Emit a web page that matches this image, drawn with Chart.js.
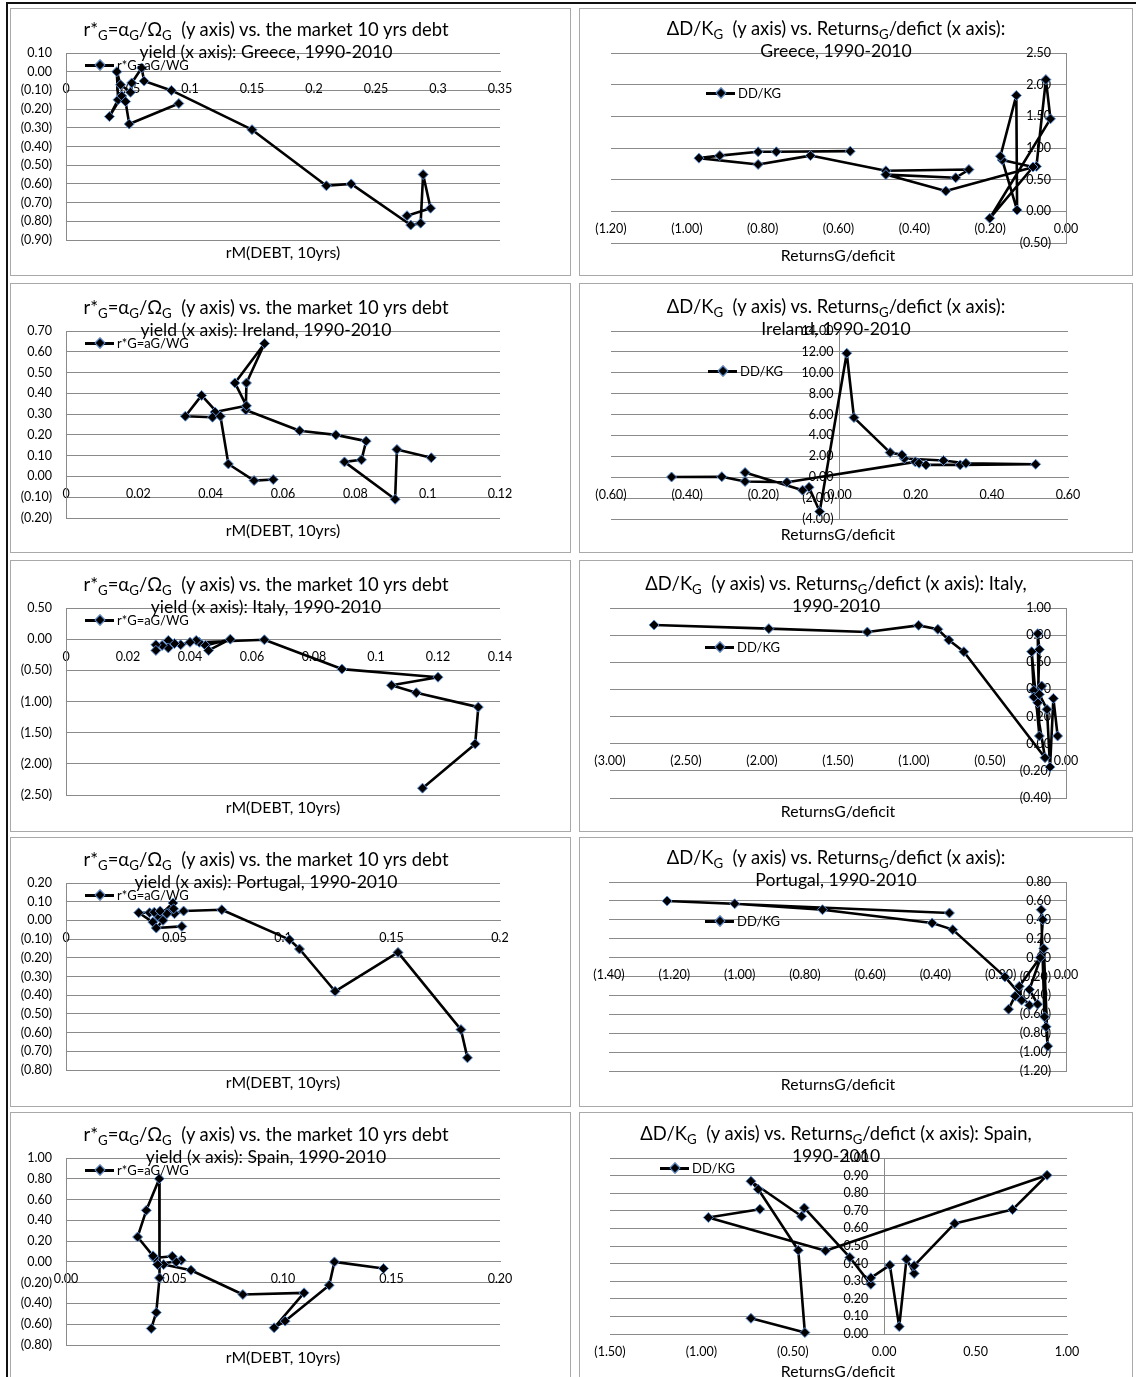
<!DOCTYPE html>
<html>
<head>
<meta charset="utf-8">
<script src="https://cdn.jsdelivr.net/npm/chart.js@4.4.1/dist/chart.umd.min.js"></script>
<style>
  body { margin: 0; background: #fff; }
  #page { position: relative; width: 1136px; height: 1377px; overflow: hidden; background: #fff;
          font-family: Lato, 'Noto Sans', 'DejaVu Sans', sans-serif; color: #000; }
  .rule { position: absolute; background: #111; }
  .panel { position: absolute; border: 1px solid #a9a9a9; box-sizing: border-box; }
  canvas.chart { position: absolute; }
  .title { position: absolute; transform: translateX(-50%); text-align: center; font-size: 17.6px;
           line-height: 22px; white-space: nowrap; }
  .title .l1 { font-size: 18.4px; }
  .title sub { font-size: 0.72em; vertical-align: -0.3em; line-height: 0; }
  .axis-title { position: absolute; transform: translate(-50%, -50%); font-size: 15.8px; white-space: nowrap; }
  .legend { position: absolute; height: 18px; display: flex; align-items: center; font-size: 13px; white-space: nowrap; }
  .legend .key { position: relative; width: 29px; height: 18px; margin-right: 3px; }
  .legend .key .ln { position: absolute; left: 0; top: 8px; width: 29px; height: 2.5px; background: #000; }
  .legend .key .dia { position: absolute; left: 11px; top: 5px; width: 6px; height: 6px; background: #000;
                      border: 1px solid #5b8ed6; transform: rotate(45deg); }
</style>
</head>
<body>
<div id="page">
  <div class="rule" style="left:6px;top:2px;width:2px;height:1377px"></div>
  <div class="rule" style="left:6px;top:2px;width:1130px;height:2px"></div>
</div>
<script>
// Greece
const grYield  = [0.275, 0.294, 0.288, 0.286, 0.278, 0.230, 0.210, 0.150, 0.085, 0.063, 0.061, 0.053, 0.052, 0.044, 0.041, 0.042, 0.035, 0.045, 0.048, 0.051, 0.091];
const grRstar  = [-0.77, -0.73, -0.55, -0.81, -0.82, -0.60, -0.61, -0.31, -0.10, -0.05, 0.02, -0.06, -0.11, -0.07, 0.00, -0.15, -0.24, -0.13, -0.16, -0.28, -0.17];
const grRetDef = [-0.569, -0.764, -0.812, -0.913, -0.968, -0.812, -0.674, -0.475, -0.256, -0.291, -0.475, -0.317, -0.078, -0.053, -0.041, -0.201, -0.087, -0.168, -0.129, -0.131, -0.173];
const grDebtK  = [0.95, 0.94, 0.94, 0.88, 0.84, 0.74, 0.88, 0.64, 0.66, 0.53, 0.58, 0.32, 0.71, 2.08, 1.46, -0.11, 0.70, 0.81, 0.02, 1.83, 0.87];

// Ireland
const ieYield  = [0.101, 0.0915, 0.091, 0.077, 0.0817, 0.083, 0.0746, 0.0646, 0.0497, 0.0499, 0.0549, 0.0467, 0.0499, 0.0412, 0.0405, 0.033, 0.0375, 0.0427, 0.0449, 0.052, 0.0573];
const ieRstar  = [0.09, 0.13, -0.11, 0.07, 0.08, 0.17, 0.20, 0.22, 0.32, 0.45, 0.64, 0.45, 0.34, 0.31, 0.285, 0.29, 0.39, 0.29, 0.06, -0.02, -0.015];
const ieRetDef = [-0.441, -0.309, -0.248, -0.138, 0.199, 0.209, 0.227, 0.317, 0.515, 0.332, 0.273, 0.170, 0.164, 0.133, 0.038, 0.019, -0.052, -0.080, -0.097, -0.248];
const ieDebtK  = [0.02, 0.05, -0.41, -0.48, 1.47, 1.34, 1.18, 1.18, 1.24, 1.34, 1.60, 1.79, 2.14, 2.36, 5.71, 11.87, -3.29, -0.96, -1.24, 0.45];

// Italy
const itYield  = [0.115, 0.132, 0.133, 0.113, 0.105, 0.120, 0.089, 0.064, 0.043, 0.045, 0.053, 0.046, 0.042, 0.040, 0.037, 0.035, 0.033, 0.033, 0.031, 0.029, 0.029];
const itRstar  = [-2.39, -1.68, -1.09, -0.86, -0.74, -0.61, -0.48, -0.01, -0.05, -0.10, 0.00, -0.18, -0.02, -0.05, -0.09, -0.07, -0.02, -0.14, -0.10, -0.09, -0.18];
const itRetDef = [-2.71, -1.955, -1.307, -0.970, -0.843, -0.771, -0.672, -0.138, -0.212, -0.226, -0.175, -0.186, -0.175, -0.186, -0.212, -0.160, -0.175, -0.125, -0.105, -0.083, -0.055];
const itDebtK  = [0.875, 0.848, 0.823, 0.872, 0.843, 0.764, 0.678, -0.103, 0.393, 0.678, 0.057, 0.811, 0.695, 0.302, 0.344, 0.425, 0.364, 0.253, -0.172, 0.334, 0.057];

// Portugal
const ptYield  = [0.185, 0.182, 0.153, 0.124, 0.1076, 0.103, 0.0718, 0.0542, 0.050, 0.0465, 0.0493, 0.0427, 0.040, 0.0335, 0.0385, 0.0407, 0.0434, 0.0496, 0.0447, 0.0416, 0.0534];
const ptRstar  = [-0.735, -0.584, -0.171, -0.379, -0.153, -0.103, 0.057, 0.050, 0.036, 0.036, 0.093, 0.021, -0.009, 0.041, 0.041, 0.044, 0.050, 0.062, 0.0, -0.041, -0.032];
const ptRetDef = [-0.357, -1.222, -1.015, -0.746, -0.410, -0.347, -0.187, -0.112, -0.087, -0.112, -0.068, -0.056, -0.061, -0.066, -0.076, -0.071, -0.079, -0.143, -0.136, -0.156, -0.176];
const ptDebtK  = [0.472, 0.599, 0.570, 0.507, 0.366, 0.296, -0.204, -0.504, -0.493, -0.338, 0.095, -0.937, -0.732, -0.627, 0.507, 0.401, 0.0, -0.303, -0.451, -0.408, -0.546];

// Spain
const esYield  = [0.1463, 0.1237, 0.1213, 0.1010, 0.0959, 0.1097, 0.0815, 0.0576, 0.0450, 0.0422, 0.0531, 0.0508, 0.0490, 0.0407, 0.0401, 0.0330, 0.0370, 0.0430, 0.0431, 0.0416, 0.0393];
const esRstar  = [-0.064, 0.0, -0.224, -0.570, -0.634, -0.298, -0.314, -0.080, -0.026, -0.026, 0.016, 0.0, 0.054, 0.038, 0.058, 0.240, 0.496, 0.80, -0.154, -0.487, -0.641];
const esRetDef = [-0.729, -0.434, -0.470, -0.689, -0.729, -0.452, -0.437, -0.188, -0.073, -0.073, 0.031, 0.082, 0.122, 0.164, 0.164, 0.386, 0.702, 0.891, -0.321, -0.962, -0.680];
const esDebtK  = [0.089, 0.008, 0.476, 0.822, 0.868, 0.669, 0.716, 0.435, 0.282, 0.319, 0.391, 0.042, 0.425, 0.344, 0.388, 0.628, 0.707, 0.902, 0.473, 0.662, 0.709];

// axis ranges: [min, max, step]
const grYieldTicks = [0, 0.35, 0.05],   grRstarTicks = [-0.9, 0.1, 0.1];
const grRetTicks   = [-1.2, 0, 0.2],    grDebtTicks  = [-0.5, 2.5, 0.5];
const ieYieldTicks = [0, 0.12, 0.02],   ieRstarTicks = [-0.2, 0.7, 0.1];
const ieRetTicks   = [-0.6, 0.6, 0.2],  ieDebtTicks  = [-4, 14, 2];
const itYieldTicks = [0, 0.14, 0.02],   itRstarTicks = [-2.5, 0.5, 0.5];
const itRetTicks   = [-3, 0, 0.5],      itDebtTicks  = [-0.4, 1.0, 0.2];
const ptYieldTicks = [0, 0.2, 0.05],    ptRstarTicks = [-0.8, 0.2, 0.1];
const ptRetTicks   = [-1.4, 0, 0.2],    ptDebtTicks  = [-1.2, 0.8, 0.2];
const esYieldTicks = [0, 0.2, 0.05],    esRstarTicks = [-0.8, 1.0, 0.2];
const esRetTicks   = [-1.5, 1.0, 0.5],  esDebtTicks  = [0, 1.0, 0.1];

// accounting style: negatives in brackets
function acct(v) {
  if (Math.abs(v) < 1e-9) return '0.00';
  return v < 0 ? '(' + Math.abs(v).toFixed(2) + ')' : v.toFixed(2);
}
function general(v) {
  return String(parseFloat(v.toFixed(4)));
}

const rowTop    = [8, 283, 560, 837, 1112];
const rowBottom = [276, 553, 832, 1107, 1385];
const rowBase   = [0, 278, 555, 830, 1105];

const leftLayout = {
  panelX: [10, 571], plotX: [66, 500], plotY: [53, 240],
  titleCx: 266, titleCy: 29, axisCx: 283, axisCy: 251, legX: 85, legCy: 65, yGap: 14
};
const rightLayout = {
  panelX: [579, 1133], plotX: [610, 1066], plotY: [53, 242],
  titleCx: 836, titleCy: 28, axisCx: 838, axisCy: 254, legX: 706, legCy: 92, yGap: 15
};

const leftTitle = c => '<span class="l1">r*<sub>G</sub>=&alpha;<sub>G</sub>/&Omega;<sub>G</sub>&nbsp;&nbsp;(y axis) vs. the market 10 yrs debt</span><br>yield (x axis): ' + c + ', 1990-2010';
const rightTitle = (head, tail) => '<span class="l1">&Delta;D/K<sub>G</sub>&nbsp;&nbsp;(y axis) vs. Returns<sub>G</sub>/defict (x axis):' + head + '</span><br>' + tail;

const panels = [
  { row: 0, col: 'L', xs: grYield, ys: grRstar, xt: grYieldTicks, yt: grRstarTicks, title: leftTitle('Greece') },
  { row: 0, col: 'R', xs: grRetDef, ys: grDebtK, xt: grRetTicks, yt: grDebtTicks, title: rightTitle('', 'Greece, 1990-2010'),
    adjust: { plotX: [611, 1066], plotY: [53, 243], legCy: 93 } },
  { row: 1, col: 'L', xs: ieYield, ys: ieRstar, xt: ieYieldTicks, yt: ieRstarTicks, title: leftTitle('Ireland') },
  { row: 1, col: 'R', xs: ieRetDef, ys: ieDebtK, xt: ieRetTicks, yt: ieDebtTicks, title: rightTitle('', 'Ireland, 1990-2010'),
    adjust: { plotX: [611, 1068], plotY: [53, 241], legX: 708, legCy: 93, yGap: 6, axisCy: 255 } },
  { row: 2, col: 'L', xs: itYield, ys: itRstar, xt: itYieldTicks, yt: itRstarTicks, title: leftTitle('Italy') },
  { row: 2, col: 'R', xs: itRetDef, ys: itDebtK, xt: itRetTicks, yt: itDebtTicks, title: rightTitle(' Italy,', '1990-2010'),
    adjust: { plotY: [53, 243], legX: 705, axisCy: 255 } },
  { row: 3, col: 'L', xs: ptYield, ys: ptRstar, xt: ptYieldTicks, yt: ptRstarTicks, title: leftTitle('Portugal') },
  { row: 3, col: 'R', xs: ptRetDef, ys: ptDebtK, xt: ptRetTicks, yt: ptDebtTicks, title: rightTitle('', 'Portugal, 1990-2010'),
    adjust: { plotX: [609, 1066], plotY: [52, 241], legX: 705, legCy: 91, titleCy: 27, axisCy: 253 } },
  { row: 4, col: 'L', xs: esYield, ys: esRstar, xt: esYieldTicks, yt: esRstarTicks, title: leftTitle('Spain'), xFixed: true },
  { row: 4, col: 'R', xs: esRetDef, ys: esDebtK, xt: esRetTicks, yt: esDebtTicks, title: rightTitle(' Spain,', '1990-2010'),
    adjust: { plotX: [610, 1067], plotY: [53, 229], legX: 660, legCy: 63, yGap: 16, axisCy: 265 } }
];

// y tick labels are drawn just left of the vertical axis, wherever it crosses
const yLabelGap = {
  id: 'yLabelGap',
  beforeDraw(chart, args, opts) {
    const xPix = chart.scales.x.getPixelForValue(opts.at);
    chart.scales.y.getLabelItems().forEach(item => {
      item.options.translation[0] = xPix - opts.gap;
      item.options.textAlign = 'right';
    });
  }
};

const gridColor = '#8a8a8a';
const tickFont = { family: 'Lato', size: 12.5 };
const page = document.getElementById('page');

function addEl(tag, cls, style, html) {
  const el = document.createElement(tag);
  if (cls) el.className = cls;
  Object.assign(el.style, style);
  if (html !== undefined) el.innerHTML = html;
  page.appendChild(el);
  return el;
}

panels.forEach(p => {
  const lay = Object.assign({}, p.col === 'L' ? leftLayout : rightLayout, p.adjust || {});
  const top = rowTop[p.row], bottom = rowBottom[p.row], base = rowBase[p.row];
  const [px0, px1] = lay.panelX;

  addEl('div', 'panel', { left: px0 + 'px', top: top + 'px', width: (px1 - px0) + 'px', height: (bottom - top) + 'px' });

  const canvas = addEl('canvas', 'chart', { left: px0 + 'px', top: top + 'px' });
  canvas.width = px1 - px0;
  canvas.height = bottom - top;

  const yAt = p.col === 'L' ? p.xt[0] : 0;
  const xFmt = (p.col === 'R' || p.xFixed) ? acct : general;

  new Chart(canvas, {
    type: 'scatter',
    data: {
      datasets: [{
        data: p.xs.map((x, i) => ({ x: x, y: p.ys[i] })),
        showLine: true,
        borderColor: '#000',
        borderWidth: 2.6,
        borderJoinStyle: 'round',
        pointStyle: 'rectRot',
        pointRadius: 5,
        pointBackgroundColor: '#000',
        pointBorderColor: '#5b8ed6',
        pointBorderWidth: 1,
        clip: false
      }]
    },
    options: {
      responsive: false,
      devicePixelRatio: 1,
      animation: false,
      events: [],
      layout: {
        padding: {
          left: lay.plotX[0] - px0,
          right: px1 - lay.plotX[1],
          top: base + lay.plotY[0] - top,
          bottom: bottom - (base + lay.plotY[1])
        }
      },
      plugins: {
        legend: { display: false },
        tooltip: { enabled: false },
        yLabelGap: { at: yAt, gap: lay.yGap }
      },
      scales: {
        x: {
          type: 'linear',
          position: { y: 0 },
          min: p.xt[0], max: p.xt[1],
          grid: { display: false, drawTicks: false },
          border: { color: gridColor, width: 1 },
          ticks: { stepSize: p.xt[2], autoSkip: false, maxRotation: 0, padding: 10, font: tickFont, color: '#000',
                   callback: v => xFmt(v) }
        },
        y: {
          type: 'linear',
          position: { x: yAt },
          min: p.yt[0], max: p.yt[1],
          grid: { color: gridColor, lineWidth: 1, drawTicks: false },
          border: { color: gridColor, width: 1 },
          ticks: { stepSize: p.yt[2], autoSkip: false, font: tickFont, color: '#000',
                   callback: v => acct(v) }
        }
      }
    },
    plugins: [yLabelGap]
  });

  addEl('div', 'title', { left: lay.titleCx + 'px', top: (base + lay.titleCy - 11) + 'px' }, p.title);
  addEl('div', 'axis-title', { left: lay.axisCx + 'px', top: (base + lay.axisCy) + 'px' },
        p.col === 'L' ? 'rM(DEBT, 10yrs)' : 'ReturnsG/deficit');
  addEl('div', 'legend', { left: lay.legX + 'px', top: (base + lay.legCy - 9) + 'px' },
        '<span class="key"><i class="ln"></i><i class="dia"></i></span>' + (p.col === 'L' ? 'r*G=aG/WG' : 'DD/KG'));
});
</script>
</body>
</html>
